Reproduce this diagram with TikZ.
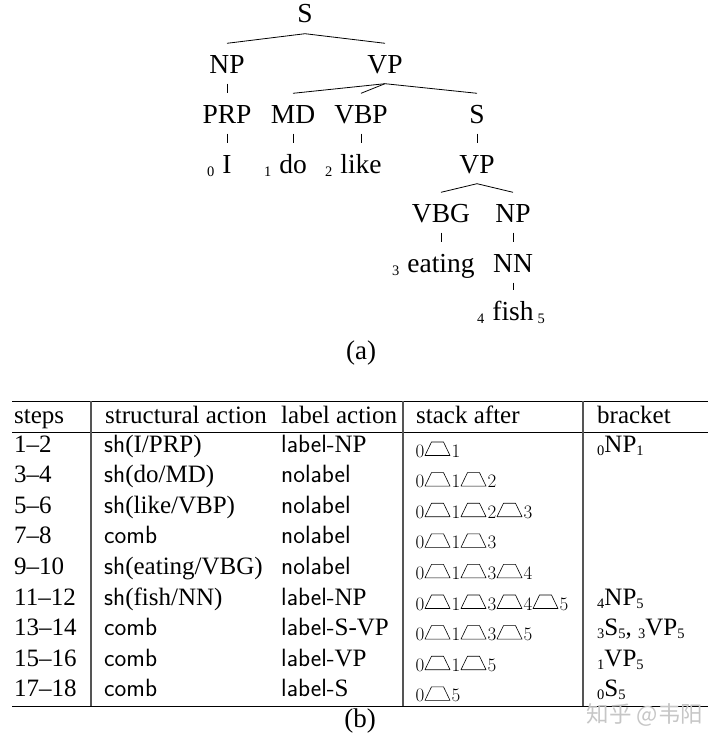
\documentclass[tikz,border=0pt]{standalone}
\usepackage{fontspec}
\setmainfont{Liberation Serif}
\newfontfamily\cjkwm{Noto Sans CJK SC}
\usepackage{tikz}
\usetikzlibrary{calc}
\definecolor{wmark}{HTML}{C6C6C6}
\definecolor{colrule}{HTML}{555555}
\newcommand{\treefont}{\fontsize{27.5}{30}\selectfont}
\newcommand{\tabfont}{\fontsize{25}{28}\selectfont}
\newcommand{\digfont}{\fontsize{19}{20}\fontfamily{lmr}\selectfont}
\newcommand{\tsub}[1]{\raisebox{-3pt}{\fontsize{14.5}{15}\selectfont #1}}
\newcommand{\shact}[1]{\textsf{sh}(#1)}
\newcommand{\lblact}[1]{\textsf{label-}#1}
\tikzset{
  treenode/.style={font=\treefont,anchor=base,inner xsep=0pt,inner ysep=10.5pt,
    text height=19pt,text depth=0pt},
  cell/.style={font=\tabfont,anchor=base west,inner sep=0pt},
  stackdig/.style={font=\digfont,anchor=base,inner sep=0pt},
  stacktrap/.pic={\draw[line width=0.6pt] (0,0) -- (6.5,-13.5) -- (18.5,-13.5) -- (25,0) -- cycle;}
}

\begin{document}
\begin{tikzpicture}[x=1pt,y=-1pt,line join=round]
\useasboundingbox (0,0) rectangle (720,744);
% (a) the tree
\node[treenode] (S0)  at (305,23)  {S};
\node[treenode] (NP1) at (227,73)  {NP};
\node[treenode] (VP1) at (385,73)  {VP};
\node[treenode] (PRP) at (227,123) {PRP};
\node[treenode] (MD)  at (293,123) {MD};
\node[treenode] (VBP) at (361,123) {VBP};
\node[treenode] (S2)  at (477,123) {S};
\node[treenode] (w0)  at (227,173) {\llap{\tsub{0}\hspace{8pt}}I};
\node[treenode] (w1)  at (293,173) {\llap{\tsub{1}\hspace{8pt}}do};
\node[treenode] (w2)  at (361,173) {\llap{\tsub{2}\hspace{8pt}}like};
\node[treenode] (VP2) at (477,173) {VP};
\node[treenode] (VBG) at (441,222) {VBG};
\node[treenode] (NP2) at (513,222) {NP};
\node[treenode] (w3)  at (441,272) {\llap{\tsub{3}\hspace{8pt}}eating};
\node[treenode] (NN)  at (513,272) {NN};
\node[treenode] (w4)  at (513,320) {\llap{\tsub{4}\hspace{8pt}}fish\rlap{\hspace{4pt}\tsub{5}}};
\begin{scope}[line width=0.8pt]
  \draw (S0.south) -- (NP1.north);  \draw (S0.south) -- (VP1.north);
  \draw (NP1.south) -- (PRP.north);
  \draw (VP1.south) -- (MD.north);  \draw (VP1.south) -- (VBP.north);
  \draw (VP1.south) -- (S2.north);
  \draw (PRP.south) -- (w0.north);  \draw (MD.south) -- (w1.north);
  \draw (VBP.south) -- (w2.north);  \draw (S2.south) -- (VP2.north);
  \draw (VP2.south) -- (VBG.north); \draw (VP2.south) -- (NP2.north);
  \draw (VBG.south) -- (w3.north);  \draw (NP2.south) -- (NN.north);
  \draw (NN.south) -- (w4.north);
\end{scope}
\node[font=\fontsize{27}{30}\selectfont,anchor=base] (capa) at (361,359) {(a)};
% (b) the table
\draw[line width=1pt] (12,401) -- (708,401);
\draw[line width=1pt] (12,432) -- (708,432);
\draw[line width=1pt] (12,706) -- (708,706);
\foreach \cx in {91,403,583}
  \draw[line width=1.1pt,draw=colrule] (\cx,401) -- (\cx,706);
\node[cell] (h-steps) at (14,423)  {steps};
\node[cell] (h-struct) at (105,423) {structural action};
\node[cell] (h-label) at (281,423) {label action};
\node[cell] (h-stack) at (416,423) {stack after};
\node[cell] (h-brack) at (597,423) {bracket};
\foreach \st/\act/\lab/\lst/\brk [count=\r] in {
  {1--2}/{\shact{I/PRP}}/{\lblact{NP}}/{0,1}/{\tsub{0}NP\tsub{1}},
  {3--4}/{\shact{do/MD}}/{\textsf{nolabel}}/{0,1,2}/{},
  {5--6}/{\shact{like/VBP}}/{\textsf{nolabel}}/{0,1,2,3}/{},
  {7--8}/{\textsf{comb}}/{\textsf{nolabel}}/{0,1,3}/{},
  {9--10}/{\shact{eating/VBG}}/{\textsf{nolabel}}/{0,1,3,4}/{},
  {11--12}/{\shact{fish/NN}}/{\lblact{NP}}/{0,1,3,4,5}/{\tsub{4}NP\tsub{5}},
  {13--14}/{\textsf{comb}}/{\lblact{S-VP}}/{0,1,3,5}/{\tsub{3}S\tsub{5}, \tsub{3}VP\tsub{5}},
  {15--16}/{\textsf{comb}}/{\lblact{VP}}/{0,1,5}/{\tsub{1}VP\tsub{5}},
  {17--18}/{\textsf{comb}}/{\lblact{S}}/{0,5}/{\tsub{0}S\tsub{5}}} {
  \pgfmathsetmacro{\yb}{452+30.6*(\r-1)}
  \node[cell] (st\r) at (14,\yb)  {\st};
  \node[cell] (sa\r) at (104,\yb) {\act};
  \node[cell] (la\r) at (281,\yb) {\lab};
  \node[cell] (br\r) at (597,\yb) {\brk};
  \foreach \d [count=\k] in \lst {
    \node[stackdig] (stk\r-\k) at ({420+36*(\k-1)},{\yb+5}) {\d};
    \ifnum\k>1
      \pic at ({420+36*(\k-1)-31},{\yb+3.5}) {stacktrap};
    \fi
  }
}
\node[font=\fontsize{27}{30}\selectfont,anchor=base] (capb) at (360,727) {(b)};
\node[font=\cjkwm\fontsize{22.5}{24}\selectfont,text=wmark,inner sep=0pt] (wm) at (645,715) {知乎 @韦阳};
\end{tikzpicture}
\end{document}
